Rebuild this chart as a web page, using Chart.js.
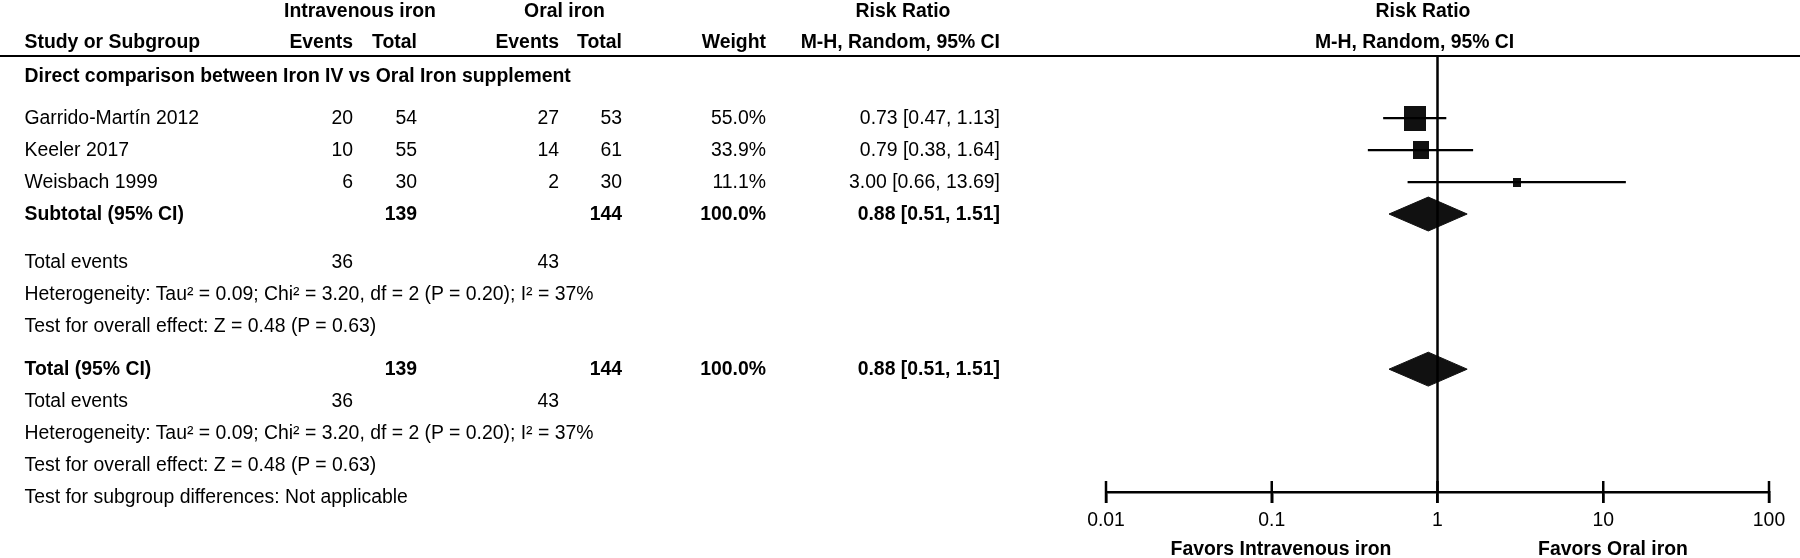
<!DOCTYPE html>
<html>
<head>
<meta charset="utf-8">
<title>Forest plot — IV vs oral iron</title>
<script src="https://cdn.jsdelivr.net/npm/chart.js@4.4.1/dist/chart.umd.min.js"></script>
<style>
  html, body { margin: 0; padding: 0; background: #fff; }
  #wrap {
    position: relative; width: 1800px; height: 558px; overflow: hidden;
    font-family: "Liberation Sans", Arial, sans-serif; font-size: 19.4px; color: #000;
  }
  #plot { position: absolute; left: 0; top: 0; }
  #rule { position: absolute; left: 0; top: 55px; width: 1800px; height: 2px; background: #000; }
  .t { position: absolute; white-space: nowrap; line-height: 1; }
  .b { font-weight: bold; }
</style>
</head>
<body>
<div id="wrap">
  <canvas id="plot" width="1800" height="558"></canvas>
  <div id="rule"></div>
  <div id="labels"></div>
</div>
<script>
// --- data ---
const studyNames = ['Garrido-Martín 2012', 'Keeler 2017', 'Weisbach 1999'];
const ivEvents = [20, 10, 6];
const ivTotal = [54, 55, 30];
const oralEvents = [27, 14, 2];
const oralTotal = [53, 61, 30];
const weights = [55.0, 33.9, 11.1];
const riskRatio = [0.73, 0.79, 3.00];
const ciLow = [0.47, 0.38, 0.66];
const ciHigh = [1.13, 1.64, 13.69];

// pooled estimate (subtotal and overall are identical here)
const pooledRR = [0.88, 0.88];
const pooledLow = [0.51, 0.51];
const pooledHigh = [1.51, 1.51];

// heterogeneity / overall effect
const tau2 = 0.09, chi2 = 3.20, hetDf = 2, hetP = 0.20, iSquared = 37;
const zValue = 0.48, zP = 0.63;

const xTicks = [0.01, 0.1, 1, 10, 100];
const xTickLabels = ['0.01', '0.1', '1', '10', '100'];

// --- layout (row units, 1 row = one table line) ---
const yMin = -1.94, yMax = 11.69;
const studyRows = [0, 1, 2];
const pooledRows = [3, 7.85];
const diamondHalf = 0.53;
const col = { label: 24.5, ivE: 353, ivT: 417, orE: 559, orT: 622, wt: 766, ci: 1000 };

const sum = a => a.reduce((s, v) => s + v, 0);
const ciText = (r, lo, hi) => `${r.toFixed(2)} [${lo.toFixed(2)}, ${hi.toFixed(2)}]`;

// squares: area grows with study weight, slightly taller than wide like the source
function boxImage(weight) {
  const w = Math.round(3.5 * Math.sqrt(weight) - 4);
  const h = Math.round(w * 1.15);
  const c = document.createElement('canvas');
  c.width = w; c.height = h;
  const g = c.getContext('2d');
  g.fillStyle = '#111';
  g.fillRect(0, 0, w, h);
  return c;
}
const boxes = weights.map(boxImage);

const datasets = [];
// line of no effect
datasets.push({
  type: 'line', data: [{ x: 1, y: yMin }, { x: 1, y: yMax }],
  borderColor: '#000', borderWidth: 2.5, pointRadius: 0, clip: false
});
// confidence intervals
studyNames.forEach((n, i) => {
  datasets.push({
    type: 'line',
    data: [{ x: ciLow[i], y: studyRows[i] }, { x: ciHigh[i], y: studyRows[i] }],
    borderColor: '#000', borderWidth: 2.3, pointRadius: 0, clip: false
  });
});
// point estimates
datasets.push({
  type: 'scatter',
  data: riskRatio.map((v, i) => ({ x: v, y: studyRows[i] })),
  pointStyle: boxes,
  pointRadius: boxes.map(b => b.width / 2),
  clip: false
});
// pooled diamonds
pooledRR.forEach((r, i) => {
  const y = pooledRows[i];
  datasets.push({
    type: 'line',
    data: [
      { x: pooledLow[i], y: y }, { x: r, y: y - diamondHalf },
      { x: pooledHigh[i], y: y }, { x: r, y: y + diamondHalf }, { x: pooledLow[i], y: y }
    ],
    borderColor: '#111', borderWidth: 1, backgroundColor: '#111',
    fill: 'shape', pointRadius: 0, tension: 0, clip: false
  });
});
// tick marks crossing the axis line
datasets.push({
  type: 'scatter',
  data: xTicks.map(v => ({ x: v, y: yMax })),
  pointStyle: 'line', rotation: 90, pointRadius: 11,
  borderColor: '#000', borderWidth: 2.5, clip: false
});

const chart = new Chart(document.getElementById('plot'), {
  type: 'scatter',
  data: { datasets },
  options: {
    responsive: false,
    animation: false,
    events: [],
    layout: { padding: { left: 1106, right: 31, top: 56, bottom: 0 } },
    plugins: { legend: { display: false }, tooltip: { enabled: false } },
    scales: {
      x: {
        type: 'logarithmic', min: 0.01, max: 100,
        afterBuildTicks: s => { s.ticks = xTicks.map(v => ({ value: v })); },
        afterFit: s => { s.height = 66; },
        border: { display: true, color: '#000', width: 2.5 },
        grid: { display: true, drawOnChartArea: false, drawTicks: true, tickLength: 11, color: '#000', lineWidth: 2.5 },
        ticks: {
          padding: 6, autoSkip: false, maxRotation: 0, color: '#000',
          font: { family: '"Liberation Sans", Arial, sans-serif', size: 19.4 },
          callback: (v, i) => xTickLabels[i]
        }
      },
      y: { type: 'linear', display: false, reverse: true, min: yMin, max: yMax }
    }
  }
});

// --- table text, placed on the same row scale as the plot ---
const yScale = chart.scales.y;
const holder = document.getElementById('labels');
function put(text, x, row, align, bold) {
  const d = document.createElement('div');
  d.className = 't' + (bold ? ' b' : '');
  d.textContent = text;
  d.style.left = x + 'px';
  d.style.top = yScale.getPixelForValue(row) + 'px';
  const tx = align === 'right' ? '-100%' : align === 'center' ? '-50%' : '0';
  d.style.transform = `translate(${tx}, -50%)`;
  holder.appendChild(d);
}

// headers
put('Intravenous iron', 360, -3.34, 'center', true);
put('Oral iron', 564.5, -3.34, 'center', true);
put('Risk Ratio', 903, -3.34, 'center', true);
put('Risk Ratio', 1423, -3.34, 'center', true);
put('Study or Subgroup', col.label, -2.375, 'left', true);
put('Events', col.ivE, -2.375, 'right', true);
put('Total', col.ivT, -2.375, 'right', true);
put('Events', col.orE, -2.375, 'right', true);
put('Total', col.orT, -2.375, 'right', true);
put('Weight', col.wt, -2.375, 'right', true);
put('M-H, Random, 95% CI', col.ci, -2.375, 'right', true);
put('M-H, Random, 95% CI', 1414.6, -2.375, 'center', true);
put('Direct comparison between Iron IV vs Oral Iron supplement', col.label, -1.31, 'left', true);

// studies
studyNames.forEach((n, i) => {
  const r = studyRows[i];
  put(n, col.label, r, 'left', false);
  put(String(ivEvents[i]), col.ivE, r, 'right', false);
  put(String(ivTotal[i]), col.ivT, r, 'right', false);
  put(String(oralEvents[i]), col.orE, r, 'right', false);
  put(String(oralTotal[i]), col.orT, r, 'right', false);
  put(weights[i].toFixed(1) + '%', col.wt, r, 'right', false);
  put(ciText(riskRatio[i], ciLow[i], ciHigh[i]), col.ci, r, 'right', false);
});

const hetText = `Heterogeneity: Tau² = ${tau2.toFixed(2)}; Chi² = ${chi2.toFixed(2)}, df = ${hetDf} (P = ${hetP.toFixed(2)}); I² = ${iSquared}%`;
const zText = `Test for overall effect: Z = ${zValue.toFixed(2)} (P = ${zP.toFixed(2)})`;

// subtotal block and total block
['Subtotal (95% CI)', 'Total (95% CI)'].forEach((name, i) => {
  const r = pooledRows[i];
  put(name, col.label, r, 'left', true);
  put(String(sum(ivTotal)), col.ivT, r, 'right', true);
  put(String(sum(oralTotal)), col.orT, r, 'right', true);
  put(sum(weights).toFixed(1) + '%', col.wt, r, 'right', true);
  put(ciText(pooledRR[i], pooledLow[i], pooledHigh[i]), col.ci, r, 'right', true);
  const gap = i === 0 ? 1.5 : 1;
  put('Total events', col.label, r + gap, 'left', false);
  put(String(sum(ivEvents)), col.ivE, r + gap, 'right', false);
  put(String(sum(oralEvents)), col.orE, r + gap, 'right', false);
  put(hetText, col.label, r + gap + 1, 'left', false);
  put(zText, col.label, r + gap + 2, 'left', false);
});
put('Test for subgroup differences: Not applicable', col.label, 11.85, 'left', false);

// favours labels under the axis
put('Favors Intravenous iron', 1281, 13.47, 'center', true);
put('Favors Oral iron', 1613, 13.47, 'center', true);
</script>
</body>
</html>
